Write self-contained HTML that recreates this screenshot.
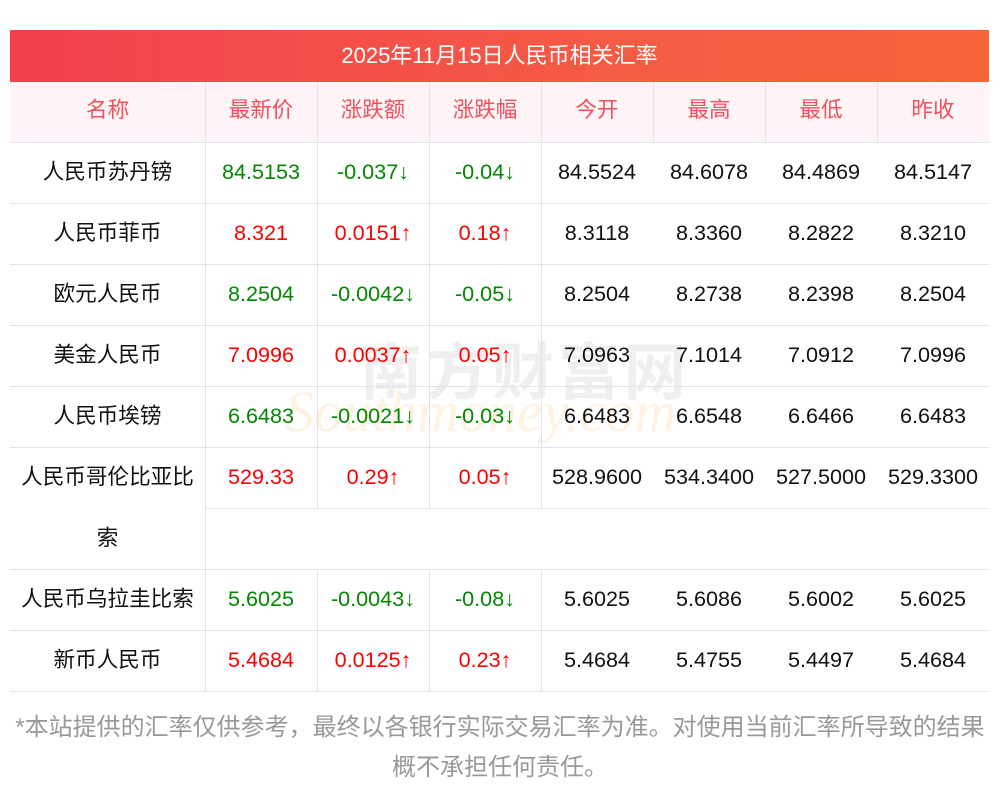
<!DOCTYPE html><html><head><meta charset="utf-8"><style>
body{margin:0;width:1000px;height:793px;background:#fff;position:relative;overflow:hidden;font-family:"Liberation Sans","Noto Sans CJK SC",sans-serif;}
.a{position:absolute}
.t{position:absolute;text-align:center;font-size:21.6px;line-height:22px;white-space:nowrap}
.h{background:#e2e2ec}
.r{color:#f00}.g{color:#080}.k{color:#111}.p{color:#f0505c}
</style></head><body>
<div class="a" style="left:10px;top:30px;width:979px;height:52px;background:linear-gradient(90deg,#f2404f,#f55a45 60%,#f8643a);color:#fff;font-size:22px;line-height:52px;text-align:center">2025年11月15日人民币相关汇率</div>
<div class="a" style="left:10px;top:82px;width:979px;height:60px;background:#fff5f6"></div>
<div class="a" style="left:360px;top:322px;font-size:62px;color:rgba(150,150,150,0.15);font-weight:bold;letter-spacing:4px;font-family:'Noto Sans CJK SC',sans-serif">南方财富网</div>
<div class="a" style="left:285px;top:378px;font-size:58px;color:rgba(250,190,110,0.2);font-style:italic;font-family:'Liberation Serif',serif">Southmoney.com</div>
<div id="g"></div>
<div class="a" style="left:0;top:708px;width:1000px;text-align:center;font-size:24px;line-height:40px;color:#999;white-space:nowrap">*本站提供的汇率仅供参考，最终以各银行实际交易汇率为准。对使用当前汇率所导致的结果<br>概不承担任何责任。</div>
<script>
var cx=[10,205,317,429,541,653,765,877,989];
var hd=["名称","最新价","涨跌额","涨跌幅","今开","最高","最低","昨收"];
var rows=[
["人民币苏丹镑","84.5153","-0.037↓","-0.04↓","84.5524","84.6078","84.4869","84.5147","g"],
["人民币菲币","8.321","0.0151↑","0.18↑","8.3118","8.3360","8.2822","8.3210","r"],
["欧元人民币","8.2504","-0.0042↓","-0.05↓","8.2504","8.2738","8.2398","8.2504","g"],
["美金人民币","7.0996","0.0037↑","0.05↑","7.0963","7.1014","7.0912","7.0996","r"],
["人民币埃镑","6.6483","-0.0021↓","-0.03↓","6.6483","6.6548","6.6466","6.6483","g"],
["人民币哥伦比亚比","529.33","0.29↑","0.05↑","528.9600","534.3400","527.5000","529.3300","r"],
["人民币乌拉圭比索","5.6025","-0.0043↓","-0.08↓","5.6025","5.6086","5.6002","5.6025","g"],
["新币人民币","5.4684","0.0125↑","0.23↑","5.4684","5.4755","5.4497","5.4684","r"]];
var tops=[142,203,264,325,386,447,569,630];
var s="";
function L(x,y,w,h){s+='<div class="a h" style="left:'+x+'px;top:'+y+'px;width:'+w+'px;height:'+h+'px"></div>';}
function T(x,y,w,txt,c){s+='<div class="t '+c+'" style="left:'+x+'px;top:'+y+'px;width:'+w+'px">'+txt+'</div>';}
for(var i=0;i<8;i++){T(cx[i],99,cx[i+1]-cx[i],hd[i],"p");}
L(10,142,979,1);
for(var i=1;i<8;i++)L(cx[i],82,1,60);
for(var r=0;r<8;r++){
 var y=tops[r],R=rows[r];
 for(var i=0;i<8;i++){
  var c=i==0?"k":(i<4?R[8]:"k");
  T(cx[i],y+19,cx[i+1]-cx[i],R[i],c);
 }
 if(r==5){T(10,y+80,195,"索","k");L(205,y,1,122);for(var j=2;j<5;j++)L(cx[j],y,1,61);L(205,508,784,1);L(10,569,979,1);}
 else{for(var j=1;j<5;j++)L(cx[j],y,1,61);L(10,y+61,979,1);}
}
document.getElementById("g").innerHTML=s;
</script>
</body></html>
